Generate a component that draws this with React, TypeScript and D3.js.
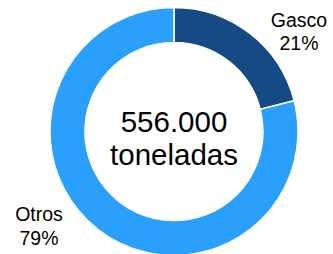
import React from "react";
import * as d3 from "d3";

const categories = ["Gasco", "Otros"];
const values = [21, 79];
const colors = ["#164A84", "#2A9FFB"];
const centerLines = ["556.000", "toneladas"];

export default function App() {
  const W = 333, H = 254;
  const cx = 174, cy = 131.5;
  const outerR = 124, innerR = 89;
  const pie = d3.pie<number>().sort(null).value((d) => d);
  const arcs = pie(values);
  const arc = d3.arc<d3.PieArcDatum<number>>().innerRadius(innerR).outerRadius(outerR);
  const labelPos = [
    { x: 299, y: 26.5 },
    { x: 39, y: 221 },
  ];
  return (
    <svg width={W} height={H} style={{ position: "absolute", left: 0, top: 0 }}
      fontFamily="'Liberation Sans', Arial, sans-serif">
      <rect width={W} height={H} fill="#fff" />
      <g transform={`translate(${cx},${cy})`}>
        {arcs.map((a, i) => (
          <path key={i} d={arc(a) || ""} fill={colors[i]} stroke="#fff" strokeWidth={1.5} />
        ))}
        <text textAnchor="middle" fontSize={29.5} fill="#000">
          <tspan x={0} y={0}>{centerLines[0]}</tspan>
          <tspan x={0} y={33.5}>{centerLines[1]}</tspan>
        </text>
      </g>
      {categories.map((c, i) => (
        <text key={c} textAnchor="middle" fontSize={19.5} fill="#000">
          <tspan x={labelPos[i].x} y={labelPos[i].y}>{c}</tspan>
          <tspan x={labelPos[i].x} y={labelPos[i].y + 23.5}>{values[i]}%</tspan>
        </text>
      ))}
    </svg>
  );
}
